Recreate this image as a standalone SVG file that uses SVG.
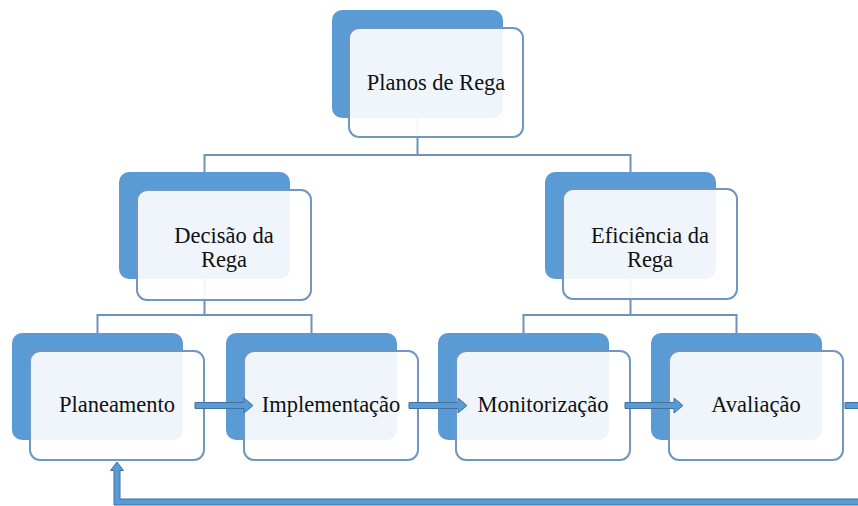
<svg xmlns="http://www.w3.org/2000/svg" width="858" height="506" viewBox="0 0 858 506">
<style>
.back{fill:#5b9bd5;}
.front{fill:#ffffff;fill-opacity:0.9;stroke:#7196c2;stroke-width:2;}
.conn{fill:none;stroke:#6f91ba;stroke-width:2;}
.arr{fill:#5b9bd5;stroke:#41719c;stroke-width:1;}
</style>
<defs>
<path id="arrow" d="M0,-3 H49 V-7.5 L58,0 L49,7.5 V3 H0 Z"/>
</defs>
<g id="connectors">
<path class="conn" d="M417.5,118 V155 M204.5,172 V155 H630.5 V172"/>
<path class="conn" d="M204.5,279 V315 M97.5,333 V315 H311.5 V333"/>
<path class="conn" d="M630.5,279 V315 M523.5,333 V315 H736.5 V333"/>
</g>
<g font-family="Liberation Serif, DejaVu Serif, Times New Roman, serif" font-size="22.5" fill="#111" text-anchor="middle">
<g id="node-planos">
<rect class="back" x="332" y="10" width="171" height="108" rx="10"/>
<rect class="front" x="349" y="28" width="174" height="109" rx="10"/>
<text x="436" y="90">Planos de Rega</text>
</g>
<g id="node-decisao">
<rect class="back" x="119" y="172" width="171" height="107" rx="10"/>
<rect class="front" x="137" y="190" width="174" height="110" rx="10"/>
<text x="224" y="243">Decisão da</text>
<text x="224" y="267">Rega</text>
</g>
<g id="node-eficiencia">
<rect class="back" x="545" y="172" width="171" height="107" rx="10"/>
<rect class="front" x="563" y="189" width="174" height="110" rx="10"/>
<text x="650" y="243">Eficiência da</text>
<text x="650" y="267">Rega</text>
</g>
<g id="node-planeamento">
<rect class="back" x="12" y="333" width="171" height="107" rx="10"/>
<rect class="front" x="30" y="351" width="174" height="109" rx="10"/>
<text x="117" y="412">Planeamento</text>
</g>
<g id="node-implementacao">
<rect class="back" x="226" y="333" width="171" height="107" rx="10"/>
<rect class="front" x="244" y="351" width="174" height="109" rx="10"/>
<text x="331" y="412">Implementação</text>
</g>
<g id="node-monitorizacao">
<rect class="back" x="438" y="333" width="171" height="107" rx="10"/>
<rect class="front" x="456" y="351" width="174" height="109" rx="10"/>
<text x="543" y="412">Monitorização</text>
</g>
<g id="node-avaliacao">
<rect class="back" x="651" y="333" width="171" height="107" rx="10"/>
<rect class="front" x="669" y="351" width="174" height="109" rx="10"/>
<text x="756" y="412">Avaliação</text>
</g>
</g>
<g id="flow-arrows">
<use href="#arrow" class="arr" transform="translate(195,405.5)"/>
<use href="#arrow" class="arr" transform="translate(409,405.5)"/>
<use href="#arrow" class="arr" transform="translate(625,405.5)"/>
<path class="arr" d="M845,402.5 H862 V408.5 H845 Z"/>
<path class="arr" d="M117,462 L123.5,470.5 H120 V499 H862 V505 H114 V470.5 H110.5 Z"/>
</g>
</svg>
